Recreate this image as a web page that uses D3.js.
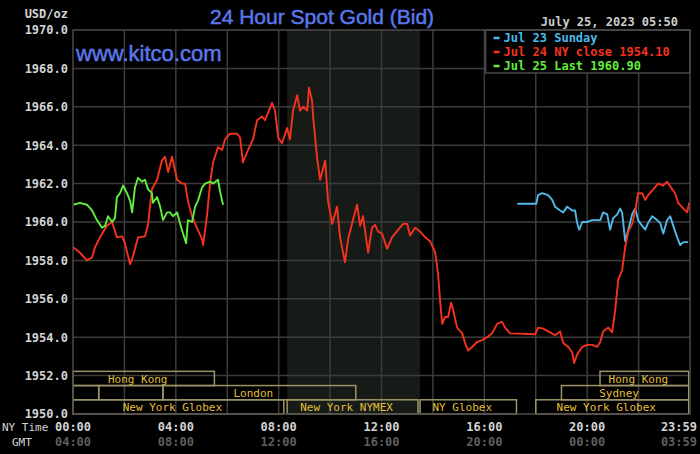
<!DOCTYPE html>
<html>
<head>
<meta charset="utf-8">
<script src="https://cdn.jsdelivr.net/npm/d3@7"></script>
<style>
  html, body { margin: 0; padding: 0; background: #000; }
  svg { display: block; }
</style>
</head>
<body>
<svg id="gold" width="700" height="454"></svg>
<script>
// Jul 23 Sunday (blue), NY time in hours
const sundayHours = [17.28, 18.02, 18.09, 18.25, 18.48, 18.64, 18.75, 18.95, 19.07, 19.22, 19.42, 19.53, 19.61, 19.69, 19.81,
  20.00, 20.19, 20.39, 20.51, 20.62, 20.78, 20.89, 21.01, 21.17, 21.28, 21.36, 21.48, 21.60, 21.75, 21.87, 21.98,
  22.14, 22.26, 22.37, 22.53, 22.72, 22.84, 22.96, 23.11, 23.23, 23.35, 23.50, 23.62, 23.74, 23.93];
const sundayPrices = [1960.95, 1960.95, 1961.4, 1961.5, 1961.4, 1961.15, 1960.8, 1960.6, 1960.5, 1960.8, 1960.6, 1960.6, 1959.95, 1959.6, 1960.0,
  1960.0, 1960.1, 1960.1, 1960.1, 1960.5, 1960.4, 1959.6, 1960.2, 1960.4, 1960.7, 1960.5, 1959.0, 1959.6, 1960.4, 1960.7, 1960.1,
  1959.8, 1959.6, 1959.95, 1960.3, 1960.1, 1959.95, 1959.4, 1960.1, 1960.3, 1959.8, 1959.2, 1958.8, 1958.95, 1958.95];

// Jul 24 NY close (red)
const closeHours = [0.00, 0.27, 0.54, 0.74, 0.86, 1.05, 1.32, 1.52, 1.71, 1.91, 2.02, 2.22, 2.33, 2.53, 2.80, 2.92,
  3.07, 3.27, 3.46, 3.58, 3.70, 3.85, 4.05, 4.24, 4.36, 4.47, 4.63, 4.82, 5.02, 5.06, 5.21, 5.33, 5.45, 5.64, 5.80, 5.91,
  6.11, 6.38, 6.50, 6.61, 6.81, 7.00, 7.16, 7.35, 7.47, 7.59, 7.74, 7.86, 7.98, 8.13, 8.33, 8.44, 8.56, 8.72, 8.83, 8.95,
  9.11, 9.18, 9.30, 9.34, 9.49, 9.61, 9.81, 9.92, 10.08, 10.27, 10.39, 10.58, 10.70, 10.89, 11.05, 11.17, 11.28, 11.48,
  11.63, 11.75, 11.87, 12.02, 12.22, 12.41, 12.65, 12.84, 13.00, 13.11, 13.31, 13.50, 13.70, 13.89, 14.09, 14.20, 14.28,
  14.36, 14.47, 14.59, 14.71, 14.79, 14.94, 15.14, 15.25, 15.37, 15.53, 15.72, 15.91, 16.11, 16.30, 16.50, 16.69, 16.81,
  17.00, 17.98, 18.09, 18.29, 18.56, 18.75, 18.95, 19.07, 19.26, 19.42, 19.49, 19.61, 19.81, 20.00, 20.19, 20.39, 20.51,
  20.62, 20.82, 20.97, 21.09, 21.21, 21.36, 21.48, 21.60, 21.75, 21.87, 21.98, 22.14, 22.26, 22.37, 22.57, 22.76, 22.96,
  23.11, 23.31, 23.42, 23.54, 23.74, 23.89, 23.97];
const closePrices = [1958.7, 1958.4, 1958.0, 1958.15, 1958.7, 1959.2, 1959.8, 1960.0, 1959.2, 1959.25, 1958.9, 1957.8, 1958.2, 1959.2, 1959.25, 1959.9,
  1961.7, 1962.2, 1963.2, 1963.4, 1962.6, 1963.4, 1962.2, 1962.0, 1962.0, 1961.1, 1960.3, 1959.7, 1959.1, 1958.8, 1960.3, 1962.0, 1963.1, 1963.9, 1963.75, 1964.3,
  1964.6, 1964.6, 1964.4, 1963.1, 1963.75, 1964.3, 1965.3, 1965.5, 1965.3, 1965.7, 1966.2, 1965.8, 1964.4, 1964.1, 1964.9, 1964.3, 1965.8, 1966.6, 1965.8, 1966.0,
  1965.8, 1967.0, 1966.3, 1965.5, 1963.4, 1962.2, 1963.2, 1961.1, 1959.9, 1960.8, 1959.2, 1957.9, 1959.1, 1960.1, 1960.9, 1959.8, 1960.3, 1958.4,
  1959.7, 1959.85, 1959.5, 1959.4, 1958.6, 1959.2, 1959.6, 1959.9, 1959.9, 1959.3, 1959.7, 1959.5, 1959.2, 1959.0, 1958.4, 1957.3, 1955.9,
  1954.7, 1955.05, 1955.05, 1955.8, 1955.4, 1954.5, 1954.2, 1953.7, 1953.3, 1953.5, 1953.75, 1953.85, 1954.0, 1954.2, 1954.7, 1954.8, 1954.5,
  1954.2, 1954.15, 1954.5, 1954.45, 1954.25, 1954.1, 1954.3, 1953.7, 1953.5, 1953.2, 1952.65, 1953.1, 1953.5, 1953.6, 1953.6, 1953.5, 1953.75,
  1954.3, 1954.5, 1954.25, 1955.4, 1957.0, 1957.5, 1958.7, 1959.5, 1959.9, 1960.6, 1961.5, 1961.5, 1961.15, 1961.4, 1961.7, 1962.0, 1961.9,
  1962.1, 1961.7, 1961.5, 1961.0, 1960.7, 1960.5, 1961.0];

// Jul 25 Last (green)
const lastHours = [0.00, 0.27, 0.54, 0.74, 0.93, 1.13, 1.25, 1.36, 1.52, 1.63, 1.71, 1.83, 1.95, 2.10, 2.22, 2.30, 2.41,
  2.53, 2.68, 2.80, 2.92, 3.07, 3.11, 3.27, 3.39, 3.50, 3.66, 3.77, 3.89, 4.05, 4.16, 4.28, 4.40, 4.47, 4.63, 4.75,
  4.86, 5.02, 5.14, 5.33, 5.45, 5.64, 5.72, 5.80, 5.84];
const lastPrices = [1960.9, 1961.0, 1960.9, 1960.6, 1960.1, 1959.7, 1959.8, 1960.3, 1960.0, 1960.2, 1961.3, 1961.5, 1961.9, 1961.5, 1961.1, 1960.5, 1961.8,
  1962.3, 1962.1, 1962.2, 1961.7, 1961.5, 1961.0, 1961.3, 1960.8, 1960.1, 1960.5, 1960.5, 1960.3, 1960.5, 1959.95, 1959.4, 1958.9, 1960.1, 1960.0, 1960.8,
  1961.1, 1961.8, 1962.0, 1962.1, 1962.0, 1962.2, 1961.6, 1961.1, 1960.9];

const yTicks = [1950, 1952, 1954, 1956, 1958, 1960, 1962, 1964, 1966, 1968, 1970];
const gridHours = [2, 4, 6, 8, 10, 12, 14, 16, 18, 20, 22];
const labelHours = [0, 4, 8, 12, 16, 20, 24];
const nyLabels = ["00:00", "04:00", "08:00", "12:00", "16:00", "20:00", "23:59"];
const gmtLabels = ["04:00", "08:00", "12:00", "16:00", "20:00", "00:00", "03:59"];

// trading sessions along the bottom
const sessionNames = ["Hong Kong", "Hong Kong", "", "", "London", "Sydney", "New York Globex", "New York NYMEX", "NY Globex", "New York Globex"];
const sessionStart = [0, 20.5, 0, 1, 3.5, 19, 0, 8.33, 13.5, 18];
const sessionEnd = [5.5, 23.95, 1, 3.5, 11, 23.95, 8.2, 13.42, 17.25, 23.95];
const sessionRow = [0, 0, 1, 1, 1, 1, 2, 2, 2, 2];
const pitHours = [8.33, 13.5];

const legendNames = ["Jul 23 Sunday", "Jul 24 NY close 1954.10", "Jul 25 Last 1960.90"];
const legendColors = ["#4fb9ea", "#f5321e", "#62ee3c"];

let svg = d3.select("#gold"),
    margin = {top: 30, right: 10, bottom: 40, left: 73},
    width = +svg.attr("width") - margin.left - margin.right,
    height = +svg.attr("height") - margin.top - margin.bottom,
    mono = "'DejaVu Sans Mono', monospace";

svg.append("rect").attr("width", 700).attr("height", 454).attr("fill", "#000");

let g = svg.append("g").attr("transform", "translate(" + margin.left + "," + margin.top + ")");

let x = d3.scaleLinear().domain([0, 24]).range([0, width]),
    y = d3.scaleLinear().domain([1950, 1970]).range([height, 0]);

// NYMEX pit hours shading
g.append("rect")
    .attr("x", x(pitHours[0]))
    .attr("y", 0)
    .attr("width", x(pitHours[1]) - x(pitHours[0]))
    .attr("height", height)
    .attr("fill", "#171b17");

// grid
g.selectAll(".hgrid")
    .data(yTicks.slice(1, -1))
    .enter().append("line")
    .attr("x1", 0).attr("x2", width)
    .attr("y1", d => y(d)).attr("y2", d => y(d))
    .attr("stroke", "#3c3c3c").attr("stroke-width", 1.5);

g.selectAll(".vgrid")
    .data(gridHours)
    .enter().append("line")
    .attr("x1", d => x(d)).attr("x2", d => x(d))
    .attr("y1", 0).attr("y2", height)
    .attr("stroke", "#3c3c3c").attr("stroke-width", 1.5);

// session boxes
let rowH = (y(1950) - y(1952)) / 2.7;
let sessions = g.selectAll(".session")
    .data(sessionNames.map((n, i) => ({name: n, start: sessionStart[i], end: sessionEnd[i], row: sessionRow[i]})))
    .enter().append("g");

sessions.append("rect")
    .attr("x", d => x(d.start))
    .attr("y", d => height - (3 - d.row) * rowH)
    .attr("width", d => x(d.end) - x(d.start))
    .attr("height", rowH)
    .attr("fill", "none")
    .attr("stroke", "#9c9468")
    .attr("stroke-width", 1.5);

sessions.append("text")
    .attr("x", d => (x(d.start) + x(d.end)) / 2 - 6)
    .attr("y", d => height - (2 - d.row) * rowH - 3)
    .attr("text-anchor", "middle")
    .style("font", "11px " + mono)
    .style("fill", "#e2bf3c")
    .text(d => d.name);

// price lines
let line = d3.line()
    .x(d => x(d[0]))
    .y(d => y(d[1]));

let series = [
    {hours: sundayHours, prices: sundayPrices, color: legendColors[0]},
    {hours: closeHours, prices: closePrices, color: legendColors[1]},
    {hours: lastHours, prices: lastPrices, color: legendColors[2]}
];

g.selectAll(".price")
    .data(series)
    .enter().append("path")
    .attr("d", s => line(s.hours.map((h, i) => [h, s.prices[i]])))
    .attr("fill", "none")
    .attr("stroke", s => s.color)
    .attr("stroke-width", 1.9)
    .attr("stroke-linejoin", "round");

// legend
let legendX = x(16.05);
let legend = g.append("g").attr("transform", "translate(" + legendX + ",0)");
legend.append("rect")
    .attr("width", width - legendX)
    .attr("height", 43)
    .attr("fill", "#000")
    .attr("stroke", "#4a4a4a")
    .attr("stroke-width", 1.5);
let items = legend.selectAll(".item")
    .data(legendNames)
    .enter().append("g")
    .attr("transform", (d, i) => "translate(0," + (12 + i * 14) + ")");
items.append("line")
    .attr("x1", 8).attr("x2", 14)
    .attr("y1", -4).attr("y2", -4)
    .attr("stroke", (d, i) => legendColors[i])
    .attr("stroke-width", 2.5);
items.append("text")
    .attr("x", 18)
    .style("font", "bold 12px " + mono)
    .style("fill", (d, i) => legendColors[i])
    .text(d => d);

// plot border
g.append("rect")
    .attr("width", width).attr("height", height)
    .attr("fill", "none")
    .attr("stroke", "#4a4a4a")
    .attr("stroke-width", 1.5);

// y axis labels
let yAxis = g.append("g")
    .attr("class", "y-axis")
    .call(d3.axisLeft(y).tickValues(yTicks).tickSize(0).tickPadding(5).tickFormat(d3.format(".1f")));
yAxis.select(".domain").remove();
yAxis.selectAll("text")
    .style("font", "bold 12px " + mono)
    .style("fill", "#d4d4d4");

// x axis labels: NY time and GMT
let xAxis = g.append("g")
    .attr("class", "x-axis")
    .attr("transform", "translate(0," + height + ")");
xAxis.selectAll(".ny")
    .data(labelHours)
    .enter().append("text")
    .attr("x", d => d === 24 ? x(d) + 7 : x(d))
    .attr("y", 17)
    .attr("text-anchor", d => d === 24 ? "end" : "middle")
    .style("font", "bold 12px " + mono)
    .style("fill", "#d4d4d4")
    .text((d, i) => nyLabels[i]);
xAxis.selectAll(".gmt")
    .data(labelHours)
    .enter().append("text")
    .attr("x", d => d === 24 ? x(d) + 7 : x(d))
    .attr("y", 32)
    .attr("text-anchor", d => d === 24 ? "end" : "middle")
    .style("font", "bold 12px " + mono)
    .style("fill", "#5e5e5e")
    .text((d, i) => gmtLabels[i]);

svg.append("text")
    .attr("x", 2).attr("y", 431)
    .style("font", "11px " + mono)
    .style("fill", "#d4d4d4")
    .text("NY Time");
svg.append("text")
    .attr("x", 12).attr("y", 446)
    .style("font", "11px " + mono)
    .style("fill", "#d4d4d4")
    .text("GMT");
svg.append("text")
    .attr("x", 68).attr("y", 18)
    .attr("text-anchor", "end")
    .style("font", "bold 12px " + mono)
    .style("fill", "#d4d4d4")
    .text("USD/oz");

// titles
svg.append("text")
    .attr("x", 210).attr("y", 24)
    .style("font", "21px 'Liberation Sans', Arial, sans-serif")
    .style("fill", "#5a78ec")
    .style("stroke", "#5a78ec")
    .style("stroke-width", 0.5)
    .text("24 Hour Spot Gold (Bid)");
svg.append("text")
    .attr("x", 76).attr("y", 61)
    .style("font", "22px 'Liberation Sans', Arial, sans-serif")
    .style("fill", "#5a78ec")
    .style("stroke", "#5a78ec")
    .style("stroke-width", 0.5)
    .text("www.kitco.com");
svg.append("text")
    .attr("x", 678).attr("y", 26)
    .attr("text-anchor", "end")
    .style("font", "bold 12px " + mono)
    .style("fill", "#cccccc")
    .text("July 25, 2023 05:50");
</script>
</body>
</html>
